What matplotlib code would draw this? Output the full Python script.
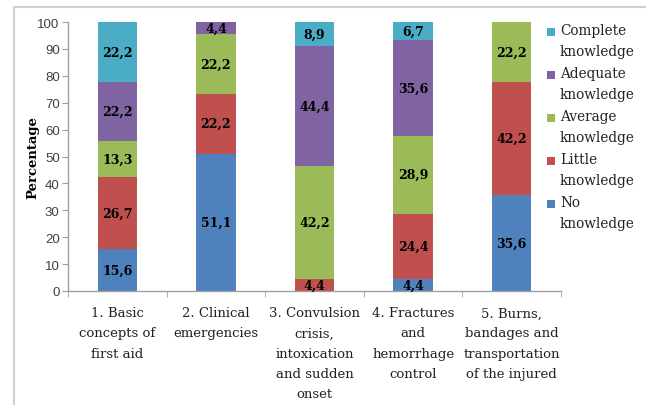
import matplotlib
matplotlib.use("Agg")
import matplotlib.pyplot as plt
from matplotlib.patches import Rectangle
import numpy as np

categories = ["1. Basic\nconcepts of\nfirst aid",
              "2. Clinical\nemergencies",
              "3. Convulsion\ncrisis,\nintoxication\nand sudden\nonset",
              "4. Fractures\nand\nhemorrhage\ncontrol",
              "5. Burns,\nbandages and\ntransportation\nof the injured"]
series_names = ["No\nknowledge", "Little\nknowledge", "Average\nknowledge",
                "Adequate\nknowledge", "Complete\nknowledge"]
no_knowledge = [15.6, 51.1, 0.0, 4.4, 35.6]
little_knowledge = [26.7, 22.2, 4.4, 24.4, 42.2]
average_knowledge = [13.3, 22.2, 42.2, 28.9, 22.2]
adequate_knowledge = [22.2, 4.4, 44.4, 35.6, 0.0]
complete_knowledge = [22.2, 0.0, 8.9, 6.7, 0.0]
yticks = [0, 10, 20, 30, 40, 50, 60, 70, 80, 90, 100]

series = [no_knowledge, little_knowledge, average_knowledge,
          adequate_knowledge, complete_knowledge]
colors = ["#4F81BD", "#C0504D", "#9BBB59", "#8064A2", "#4BACC6"]

W, H = 646, 406
fig = plt.figure(figsize=(W / 100, H / 100), dpi=100)
serif = ["DejaVu Serif"]
sans = ["Liberation Sans"]

# outer border
fig.patches.append(Rectangle((14 / W, -0.1), 1.2, 1 - 8 / H + 0.1,
                             transform=fig.transFigure, fill=False,
                             edgecolor="#d0d0d0", linewidth=1.5))

ax = fig.add_axes([68 / W, 1 - 292 / H, (561 - 68) / W, (292 - 23) / H])
x = np.arange(len(categories))
bottom = np.zeros(len(categories))
for vals, col in zip(series, colors):
    vals = np.array(vals)
    ax.bar(x, vals, width=0.40, bottom=bottom, color=col, zorder=2)
    for xi, b, v in zip(x, bottom, vals):
        if v > 0:
            ax.text(xi, b + v / 2, f"{v:.1f}".replace(".", ","),
                    ha="center", va="center", fontsize=9,
                    fontweight="bold", family=serif, color="black", zorder=3)
    bottom += vals

ax.set_xlim(-0.5, 4.5)
ax.set_ylim(0, 100)
ax.set_yticks(yticks)
ax.set_yticklabels([str(t) for t in yticks], family=sans, fontsize=9.5,
                   color="#404040")
ax.tick_params(axis="y", length=4, color="#a0a0a0", pad=2)
ax.set_xticks(x)
ax.set_xticklabels(categories, family=serif, fontsize=9.5, linespacing=1.72,
                   color="#222222")
ax.tick_params(axis="x", which="major", length=0, pad=11)
ax.set_xticks(np.arange(-0.5, 5.0, 1.0), minor=True)
ax.tick_params(axis="x", which="minor", length=4, color="#a0a0a0")
for s in ["top", "right"]:
    ax.spines[s].set_visible(False)
for s in ["left", "bottom"]:
    ax.spines[s].set_color("#a0a0a0")
    ax.spines[s].set_linewidth(1.0)

fig.text(33 / W, 1 - 158 / H, "Percentage", rotation=90, ha="center",
         va="center", family=serif, fontsize=9.5, fontweight="bold")

# legend drawn manually: marker aligned with first text line
for i, (name, col) in enumerate(zip(series_names[::-1], colors[::-1])):
    yc = 33 + 43 * i
    fig.patches.append(Rectangle((547 / W, 1 - (yc + 4) / H), 8 / W, 8 / H,
                                 transform=fig.transFigure,
                                 facecolor=col, edgecolor="none"))
    fig.text(560 / W, 1 - (yc - 9) / H, name, ha="left", va="top",
             family=serif, fontsize=9.8, linespacing=1.62, color="#222222")

fig.savefig("out.png", dpi=100)
